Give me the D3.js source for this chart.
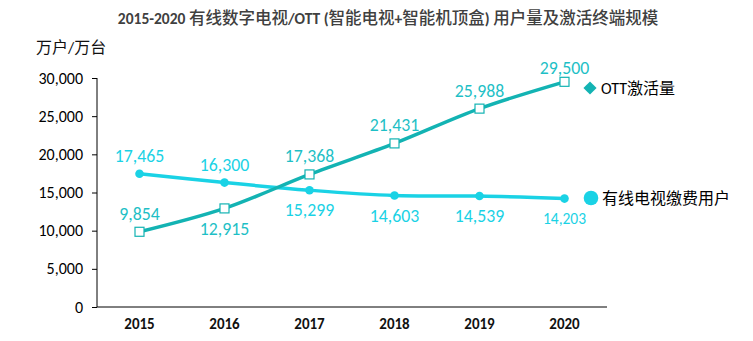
<!DOCTYPE html>
<html><head><meta charset="utf-8">
<script src="https://cdn.jsdelivr.net/npm/d3@7"></script>
<style>body{margin:0;background:#fff;}svg{display:block;}</style>
</head><body>
<script>
const years = ["2015","2016","2017","2018","2019","2020"];
const ottValues = [9854, 12915, 17368, 21431, 25988, 29500];
const cableValues = [17465, 16300, 15299, 14603, 14539, 14203];
const yTicks = [0, 5000, 10000, 15000, 20000, 25000, 30000];
const ottLabelPos = ["above","below","above","above","above","above"];
const cableLabelPos = ["above","above","below","below","below","below"];
const seriesNames = ["OTT激活量", "有线电视缴费用户"];
const titleText = "2015-2020 有线数字电视/OTT (智能电视+智能机顶盒) 用户量及激活终端规模";
const unitText = "万户/万台";

const W = 753, H = 341;
const ottColor = "#13b3b3", cableColor = "#1ad2e5", ottLabelColor = "#1ebfc6";
const svg = d3.select("body").append("svg").attr("width", W).attr("height", H);
const font = "Carlito, Calibri, 'Noto Sans CJK SC', 'Liberation Sans', sans-serif";

const x = d3.scaleBand().domain(years).range([97, 607]);
const y = d3.scaleLinear().domain([0, 30000]).range([307, 78]);
const cx = d => x(d) + x.bandwidth() / 2;

// title: Latin runs bold, CJK runs medium
const title = svg.append("text").attr("x", 388).attr("y", 24).attr("text-anchor", "middle")
  .attr("font-family", font).attr("fill", "#404040");
const runs = titleText.match(/[\u4e00-\u9fff]+|[^\u4e00-\u9fff]+/g);
runs.forEach(r => {
  const cjk = /[\u4e00-\u9fff]/.test(r);
  title.append("tspan").attr("font-weight", cjk ? 500 : "bold")
    .attr("font-size", cjk ? 16.5 : 15.5).text(r);
});

svg.append("text").attr("x", 36).attr("y", 53)
  .attr("font-family", font).attr("font-size", 16).attr("fill", "#111").text(unitText);

// axes
const yAxis = svg.append("g").attr("transform", "translate(97,0)")
  .call(d3.axisLeft(y).tickValues(yTicks).tickSize(5).tickPadding(9).tickFormat(d3.format(",")));
yAxis.selectAll("text").attr("font-family", font).attr("font-size", 16).attr("fill", "#000");
yAxis.selectAll("line,path").attr("stroke", "#000");
yAxis.select(".domain").attr("d", "M0,78V307");

const xAxis = svg.append("g").attr("transform", "translate(0,307)")
  .call(d3.axisBottom(x).tickSize(0).tickPadding(11));
xAxis.select(".domain").attr("d", "M97,0H607").attr("stroke", "#000");
xAxis.selectAll("text").attr("font-family", font).attr("font-size", 15)
  .attr("font-weight", "bold").attr("fill", "#111");

const line = d3.line().x(d => cx(d[0])).y(d => y(d[1])).curve(d3.curveCatmullRom.alpha(0.5));
const cableData = years.map((yr, i) => [yr, cableValues[i]]);
const ottData = years.map((yr, i) => [yr, ottValues[i]]);

svg.append("path").attr("d", line(cableData)).attr("fill", "none")
  .attr("stroke", cableColor).attr("stroke-width", 3.5);
svg.append("path").attr("d", line(ottData)).attr("fill", "none")
  .attr("stroke", ottColor).attr("stroke-width", 3.5);

svg.selectAll(".cdot").data(cableData).join("circle")
  .attr("cx", d => cx(d[0])).attr("cy", d => y(d[1])).attr("r", 4.3).attr("fill", cableColor);
svg.selectAll(".osq").data(ottData).join("rect")
  .attr("x", d => cx(d[0]) - 4.5).attr("y", d => y(d[1]) - 4.5)
  .attr("width", 9).attr("height", 9).attr("fill", "#fff")
  .attr("stroke", ottColor).attr("stroke-width", 1.2);

const fmt = d3.format(",");
svg.selectAll(".clab").data(cableData).join("text")
  .attr("x", d => cx(d[0]))
  .attr("y", (d, i) => y(d[1]) + (cableLabelPos[i] === "above" ? -18 : 20))
  .attr("dominant-baseline", "central")
  .attr("text-anchor", "middle").attr("font-family", font)
  .attr("font-size", (d, i) => i === 5 ? 15.5 : 17.8).attr("fill", cableColor)
  .text(d => fmt(d[1]));
svg.selectAll(".olab").data(ottData).join("text")
  .attr("x", d => cx(d[0]))
  .attr("y", (d, i) => y(d[1]) + (ottLabelPos[i] === "above" ? (i === 5 ? -14 : -18) : 21))
  .attr("dominant-baseline", "central")
  .attr("text-anchor", "middle").attr("font-family", font)
  .attr("font-size", 17.8).attr("fill", ottLabelColor)
  .text(d => fmt(d[1]));

// legend
const lg = svg.append("g");
lg.append("path").attr("d", d3.symbol(d3.symbolDiamond2, 110)())
  .attr("transform", "translate(590,88)").attr("fill", ottColor);
lg.append("text").attr("x", 601).attr("y", 94).attr("font-family", font)
  .attr("font-size", 16).attr("fill", "#000").text(seriesNames[0]);
lg.append("circle").attr("cx", 591).attr("cy", 198).attr("r", 7.3).attr("fill", cableColor);
lg.append("text").attr("x", 602).attr("y", 204).attr("font-family", font)
  .attr("font-size", 16).attr("fill", "#000").text(seriesNames[1]);
</script>
</body></html>
